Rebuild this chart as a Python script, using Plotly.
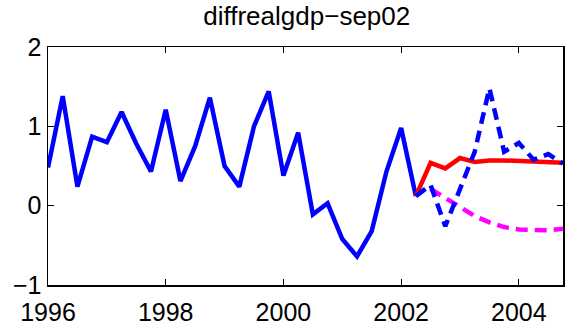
import plotly.graph_objects as go

# Quarterly dates
hist_x = [1996 + 0.25 * i for i in range(26)]  # 1996.00 .. 2002.25
hist_y = [0.48, 1.38, 0.24, 0.87, 0.80, 1.18, 0.78, 0.43, 1.21, 0.31, 0.75, 1.36,
          0.50, 0.24, 1.00, 1.44, 0.38, 0.92, -0.11, 0.03, -0.42, -0.64, -0.32, 0.43,
          0.98, 0.12]

fc_x = [2002.25 + 0.25 * i for i in range(11)]  # 2002.25 .. 2004.75
red_y = [0.12, 0.54, 0.47, 0.60, 0.55, 0.57, 0.57, 0.56, 0.56, 0.55, 0.54]
blue_dash_y = [0.12, 0.26, -0.26, 0.22, 0.68, 1.48, 0.68, 0.79, 0.58, 0.65, 0.53]

mag_x = [2002.5 + 0.25 * i for i in range(10)]
mag_y = [0.21, 0.10, -0.02, -0.13, -0.21, -0.27, -0.30, -0.31, -0.31, -0.29]

x_ticks = [1996, 1998, 2000, 2002, 2004]
y_ticks = [-1, 0, 1, 2]

fig = go.Figure()
fig.add_trace(go.Scatter(x=hist_x, y=hist_y, mode="lines",
                         line=dict(color="#0000ff", width=4.5)))
fig.add_trace(go.Scatter(x=mag_x, y=mag_y, mode="lines",
                         line=dict(color="#ff00ff", width=4.5, dash="12px,7px")))
fig.add_trace(go.Scatter(x=fc_x, y=red_y, mode="lines",
                         line=dict(color="#ff0000", width=4.5)))
fig.add_trace(go.Scatter(x=fc_x, y=blue_dash_y, mode="lines",
                         line=dict(color="#0000ff", width=4.5, dash="12px,7px")))

axis_common = dict(showgrid=False, zeroline=False, showline=True, linecolor="black",
                   linewidth=1.5, mirror="ticks", ticks="inside", ticklen=6,
                   tickcolor="black", automargin=False,
                   tickfont=dict(family="Liberation Sans", size=25, color="black"))

fig.update_layout(
    width=567, height=325,
    margin=dict(l=48, r=4, t=47, b=40, autoexpand=False),
    paper_bgcolor="white", plot_bgcolor="white",
    showlegend=False,
    hovermode=False,
    title=dict(text="diffrealgdp\u2212sep02", x=0.541, xanchor="center", y=0.95, yanchor="middle",
               automargin=False,
               font=dict(family="Liberation Sans", size=26, color="black")),
    xaxis=dict(range=[1996, 2004.75], tickvals=x_ticks, ticktext=[str(v) for v in x_ticks],
               ticklabelstandoff=4, **axis_common),
    yaxis=dict(range=[-1, 2], tickvals=y_ticks, **axis_common),
)

fig.write_html("out.html",
               config={"displayModeBar": False, "staticPlot": True},
               post_script="document.body.style.margin='0';document.body.style.overflow='hidden';")
